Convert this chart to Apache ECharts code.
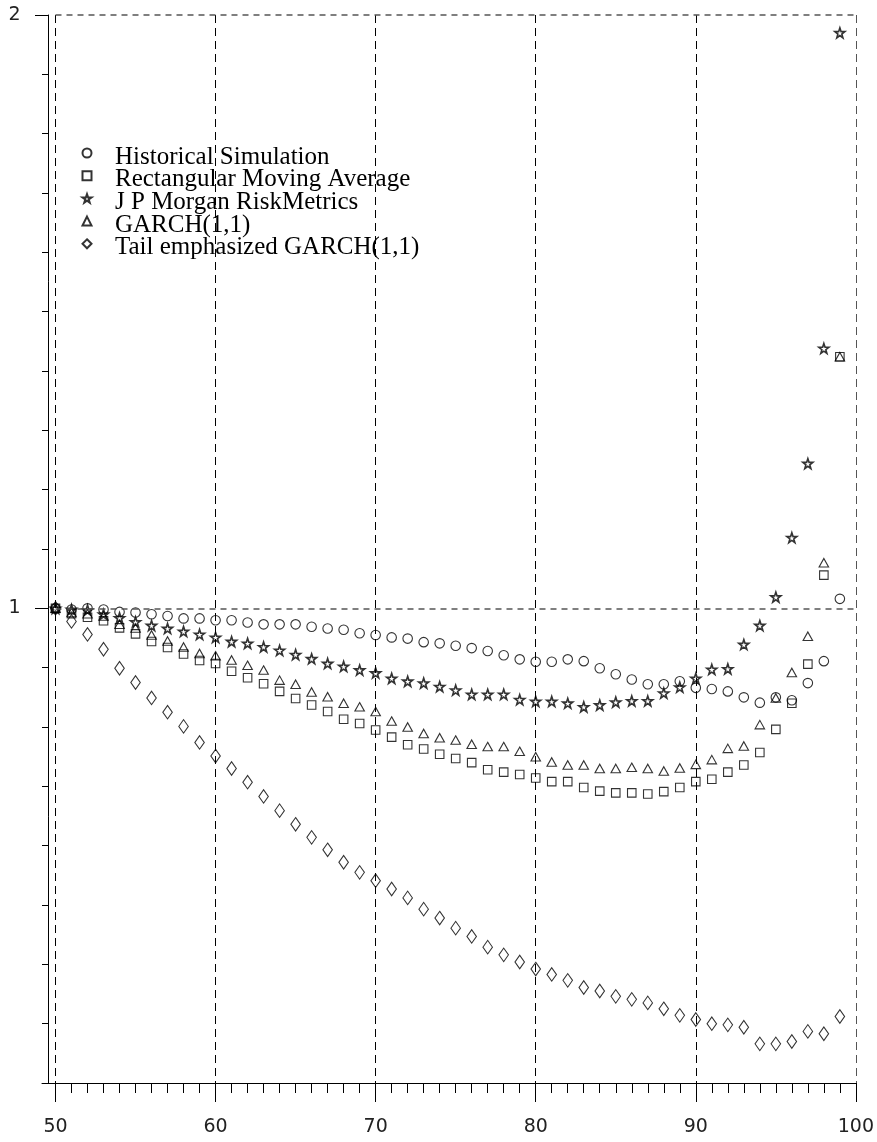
<!DOCTYPE html>
<html>
<head>
<meta charset="utf-8">
<script src="https://cdn.jsdelivr.net/npm/echarts@6/dist/echarts.min.js"></script>
<style>
html, body { margin: 0; padding: 0; background: #fff; }
#chart { width: 877px; height: 1142px; }
</style>
</head>
<body>
<div id="chart"></div>
<script>
// x positions (quantile level)
var quantiles = [50, 51, 52, 53, 54, 55, 56, 57, 58, 59,
    60, 61, 62, 63, 64, 65, 66, 67, 68, 69,
    70, 71, 72, 73, 74, 75, 76, 77, 78, 79,
    80, 81, 82, 83, 84, 85, 86, 87, 88, 89,
    90, 91, 92, 93, 94, 95, 96, 97, 98, 99];

var histSim = [1.000, 0.998, 1.000, 0.998, 0.994, 0.993, 0.990, 0.987, 0.983, 0.983,
    0.980, 0.980, 0.976, 0.973, 0.973, 0.973, 0.969, 0.966, 0.964, 0.958,
    0.955, 0.951, 0.949, 0.943, 0.941, 0.937, 0.933, 0.928, 0.921, 0.914,
    0.910, 0.910, 0.914, 0.911, 0.899, 0.889, 0.880, 0.872, 0.872, 0.877,
    0.866, 0.864, 0.860, 0.850, 0.841, 0.850, 0.845, 0.874, 0.911, 1.016];

var rectMA = [1.000, 0.991, 0.985, 0.979, 0.967, 0.957, 0.944, 0.934, 0.923, 0.912,
    0.907, 0.894, 0.883, 0.873, 0.860, 0.848, 0.837, 0.826, 0.813, 0.806,
    0.795, 0.783, 0.770, 0.763, 0.754, 0.747, 0.740, 0.728, 0.724, 0.720,
    0.714, 0.708, 0.708, 0.698, 0.692, 0.689, 0.689, 0.687, 0.691, 0.698,
    0.708, 0.712, 0.724, 0.736, 0.757, 0.796, 0.840, 0.906, 1.056, 1.424];

var riskMetrics = [1.000, 0.998, 0.997, 0.990, 0.984, 0.977, 0.971, 0.966, 0.961, 0.956,
    0.951, 0.944, 0.941, 0.935, 0.929, 0.922, 0.915, 0.907, 0.902, 0.896,
    0.891, 0.882, 0.877, 0.874, 0.868, 0.862, 0.855, 0.855, 0.855, 0.846,
    0.843, 0.843, 0.840, 0.834, 0.837, 0.842, 0.844, 0.844, 0.857, 0.867,
    0.882, 0.897, 0.898, 0.939, 0.971, 1.019, 1.119, 1.244, 1.438, 1.970];

var garch = [1.000, 0.993, 0.991, 0.987, 0.973, 0.967, 0.955, 0.945, 0.935, 0.924,
    0.920, 0.913, 0.904, 0.896, 0.879, 0.872, 0.859, 0.851, 0.840, 0.834,
    0.826, 0.810, 0.800, 0.789, 0.782, 0.778, 0.771, 0.767, 0.767, 0.759,
    0.750, 0.741, 0.736, 0.736, 0.730, 0.730, 0.732, 0.730, 0.726, 0.731,
    0.737, 0.745, 0.764, 0.768, 0.804, 0.849, 0.892, 0.953, 1.077, 1.424];

var tailGarch = [1.000, 0.978, 0.956, 0.931, 0.899, 0.875, 0.849, 0.825, 0.801, 0.774,
    0.751, 0.730, 0.707, 0.683, 0.659, 0.636, 0.614, 0.593, 0.572, 0.555,
    0.541, 0.527, 0.512, 0.493, 0.478, 0.461, 0.447, 0.429, 0.416, 0.404,
    0.392, 0.383, 0.373, 0.361, 0.355, 0.346, 0.341, 0.335, 0.325, 0.314,
    0.307, 0.300, 0.298, 0.294, 0.266, 0.266, 0.270, 0.287, 0.283, 0.312];

var seriesNames = ['Historical Simulation', 'Rectangular Moving Average',
    'J P Morgan RiskMetrics', 'GARCH(1,1)', 'Tail emphasized GARCH(1,1)'];

// y ticks: small ones every 0.1, labelled ones at 1 and 2
var yMinorTicks = [0.2, 0.3, 0.4, 0.5, 0.6, 0.7, 0.8, 0.9, 1.0, 1.1,
    1.2, 1.3, 1.4, 1.5, 1.6, 1.7, 1.8, 1.9, 2.0];
var yMajorTicks = [1, 2];

var starPath = 'path://M50,0 L61.8,35.1 L98.1,35.1 L68.8,56.8 L79.4,91 L50,70 L20.6,91 L31.2,56.8 L1.9,35.1 L38.2,35.1 Z';

function pairs(values) {
    return quantiles.map(function (q, i) { return [q, values[i]]; });
}

function hollow(name, values, symbol, size, border) {
    return {
        name: name,
        type: 'scatter',
        xAxisIndex: 0,
        yAxisIndex: 0,
        symbol: symbol,
        symbolSize: size,
        itemStyle: { color: 'rgba(0,0,0,0)', borderColor: '#000', borderWidth: border || 1.1 },
        data: pairs(values)
    };
}

var labelFont = { fontSize: 19, fontFamily: 'DejaVu Sans', color: '#222' };

var series = [
    hollow(seriesNames[0], histSim, 'circle', 9.5),
    hollow(seriesNames[1], rectMA, 'rect', 8.5),
    hollow(seriesNames[2], riskMetrics, starPath, 10, 1.6),
    hollow(seriesNames[3], garch, 'triangle', [9.5, 8.5]),
    hollow(seriesNames[4], tailGarch, 'diamond', [9.5, 13.5])
];
// dashed horizontal reference lines at the labelled values
series[0].markLine = {
    silent: true,
    symbol: 'none',
    animation: false,
    label: { show: false },
    lineStyle: { color: '#555', width: 1.5, type: [6, 5] },
    data: yMajorTicks.map(function (v) { return { yAxis: v }; })
};

var chart = echarts.init(document.getElementById('chart'), null, { renderer: 'canvas' });
chart.setOption({
    animation: false,
    backgroundColor: '#fff',
    grid: [
        { left: 55.5, right: 19, top: 15, bottom: 59 },
        { left: 55.5, right: 19, top: 15, bottom: 59 },
        { left: 42, width: 13.5, top: 15, bottom: 59 }
    ],
    legend: {
        data: seriesNames,
        orient: 'vertical',
        left: 81.5,
        top: 136.5,
        padding: 0,
        itemWidth: 9,
        itemHeight: 9,
        itemGap: -10.3,
        selectedMode: false,
        formatter: function (name) { return '{t|' + name + '}'; },
        textStyle: {
            fontFamily: 'Liberation Serif',
            fontSize: 25,
            color: '#000',
            rich: {
                t: {
                    fontFamily: 'Liberation Serif',
                    fontSize: 25,
                    color: '#000',
                    lineHeight: 22.7,
                    padding: [8, 0, 0, 18.5]
                }
            }
        }
    },
    xAxis: [
        {
            gridIndex: 0, type: 'value', min: 50, max: 100, interval: 10,
            axisLine: { onZero: false, lineStyle: { color: '#000', width: 1 } },
            axisTick: { length: 19, lineStyle: { color: '#000' } },
            minorTick: { show: true, splitNumber: 10, length: 10, lineStyle: { color: '#000' } },
            splitLine: {
                show: true,
                lineStyle: { color: ['#000', '#000', '#000', '#000', '#000', '#555'], width: 1, type: [8, 5] }
            },
            axisLabel: Object.assign({ margin: 35 }, labelFont)
        },
        { gridIndex: 1, type: 'value', min: 50, max: 100, show: false },
        {
            gridIndex: 2, type: 'value', min: 0, max: 1,
            axisLine: { onZero: false, lineStyle: { color: '#000', width: 1 } },
            axisTick: { show: false }, axisLabel: { show: false }, splitLine: { show: false }
        }
    ],
    yAxis: [
        {
            gridIndex: 0, type: 'value', min: 0.2, max: 2, offset: 7,
            axisLine: { show: true, onZero: false, lineStyle: { color: '#000', width: 1 } },
            axisTick: { show: true, length: 6.5, customValues: yMinorTicks, lineStyle: { color: '#000' } },
            axisLabel: { show: false },
            splitLine: { show: false }
        },
        {
            gridIndex: 1, type: 'value', min: 0.2, max: 2, offset: 7,
            axisLine: { show: false },
            axisTick: { show: true, length: 13.5, customValues: yMajorTicks, lineStyle: { color: '#000' } },
            axisLabel: Object.assign({ margin: 28, customValues: yMajorTicks }, labelFont),
            splitLine: { show: false }
        },
        { gridIndex: 2, type: 'value', min: 0, max: 1, show: false }
    ],
    series: series
});
</script>
</body>
</html>
